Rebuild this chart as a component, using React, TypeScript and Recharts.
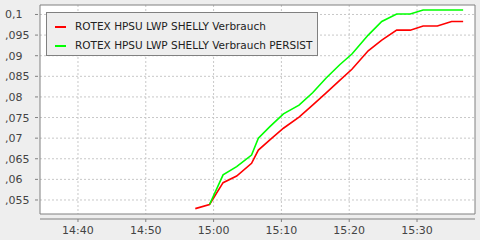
import React from 'react';
import {
  LineChart, Line, XAxis, YAxis, CartesianGrid, Legend, ReferenceArea,
} from 'recharts';

// minutes since midnight
const times = [
  897.3, 899.4, 901.4, 903.4, 905.6, 906.6, 908.3, 910.3, 912.6, 914.6, 916.6,
  918.6, 920.4, 922.8, 924.8, 927.0, 929.0, 930.9, 933.0, 935.1, 936.8,
];
const verbrauch = [
  0.0529, 0.0539, 0.0592, 0.0608, 0.0639, 0.0671, 0.0696, 0.0724, 0.0751, 0.078, 0.081,
  0.084, 0.0867, 0.0912, 0.0938, 0.0962, 0.0962, 0.0972, 0.0972, 0.0983, 0.0983,
];
const persist = [
  null, 0.0539, 0.0611, 0.0631, 0.0659, 0.07, 0.0728, 0.0759, 0.078, 0.081, 0.0846,
  0.0878, 0.0904, 0.095, 0.0983, 0.1001, 0.1001, 0.1011, 0.1011, 0.1011, 0.1011,
];
const xTicks = [880, 890, 900, 910, 920, 930];
const xTickLabels = ['14:40', '14:50', '15:00', '15:10', '15:20', '15:30'];
const yTicks = [0.055, 0.06, 0.065, 0.07, 0.075, 0.08, 0.085, 0.09, 0.095, 0.1];
const yTickLabels = [',055', ',06', ',065', ',07', ',075', ',08', ',085', ',09', ',095', '0,1'];

const xDomain = [874.4, 938.55];
const yDomain = [0.0516, 0.1023];

const data = times.map((t, i) => ({ t, verbrauch: verbrauch[i], persist: persist[i] }));

const font = '"DejaVu Sans", sans-serif';

const XTick = ({ x, y, payload }: any) => {
  const label = xTickLabels[xTicks.indexOf(payload.value)];
  return (
    <g>
      <line x1={x} x2={x} y1={y + 5} y2={y + 8} stroke="#808080" />
      <text x={x} y={y + 16} dy={4} textAnchor="middle" fontFamily={font} fontSize={11} fill="#444">
        {label}
      </text>
    </g>
  );
};

const YTick = ({ x, y, payload }: any) => {
  const label = yTickLabels[yTicks.indexOf(payload.value)];
  return (
    <g>
      <line x1={x - 5} x2={x - 2} y1={y} y2={y} stroke="#808080" />
      <text x={5} y={y} dy={4} textAnchor="start" fontFamily={font} fontSize={11} fill="#444">
        {label}
      </text>
    </g>
  );
};

const renderLegend = ({ payload }: any) => (
  <div
    style={{
      width: 272, height: 44, boxSizing: 'border-box', background: '#eeeeee',
      border: '1px solid #808080', position: 'relative', fontFamily: font, fontSize: 10.5,
    }}
  >
    {(payload || []).map((entry: any, i: number) => (
      <div key={entry.value} style={{ position: 'absolute', left: 0, top: 7 + i * 18.5, height: 12, width: '100%' }}>
        <div style={{ position: 'absolute', left: 8, top: 6, width: 11, height: 2, background: entry.color }} />
        <div style={{ position: 'absolute', left: 28, top: 0, lineHeight: '12px', color: '#222', whiteSpace: 'nowrap' }}>
          {entry.value}
        </div>
      </div>
    ))}
  </div>
);

export default function App() {
  return (
    <div style={{ position: 'absolute', left: 0, top: 0, width: 480, height: 240, background: '#eeeeee' }}>
      <LineChart width={480} height={240} data={data} margin={{ top: 5, right: 5, bottom: 0, left: 0 }}>
        <CartesianGrid
          stroke="#c8c8c8"
          strokeDasharray="2 2"
          fill="#ffffff"
          horizontalValues={yTicks}
          verticalValues={xTicks}
        />
        <XAxis
          dataKey="t"
          type="number"
          domain={xDomain}
          ticks={xTicks}
          allowDataOverflow
          height={26}
          tickSize={0}
          tickMargin={0}
          tickLine={false}
          axisLine={{ stroke: '#808080', transform: 'translate(0,5)' }}
          tick={<XTick />}
          interval={0}
        />
        <YAxis
          type="number"
          domain={yDomain}
          ticks={yTicks}
          allowDataOverflow
          width={40}
          tickSize={0}
          tickMargin={0}
          tickLine={false}
          axisLine={false}
          tick={<YTick />}
          interval={0}
        />
        <ReferenceArea
          x1={xDomain[0]}
          x2={xDomain[1]}
          y1={yDomain[0]}
          y2={yDomain[1]}
          fill="none"
          stroke="#808080"
          ifOverflow="visible"
        />
        <Legend
          layout="vertical"
          align="center"
          verticalAlign="middle"
          content={renderLegend}
          wrapperStyle={{ left: 46, top: 12, width: 272, height: 44 }}
        />
        <Line
          type="linear"
          dataKey="verbrauch"
          name="ROTEX HPSU LWP SHELLY Verbrauch"
          stroke="#ff0000"
          strokeWidth={1.6}
          dot={false}
          isAnimationActive={false}
        />
        <Line
          type="linear"
          dataKey="persist"
          name="ROTEX HPSU LWP SHELLY Verbrauch PERSIST"
          stroke="#00ff00"
          strokeWidth={1.6}
          dot={false}
          isAnimationActive={false}
        />
      </LineChart>
    </div>
  );
}
